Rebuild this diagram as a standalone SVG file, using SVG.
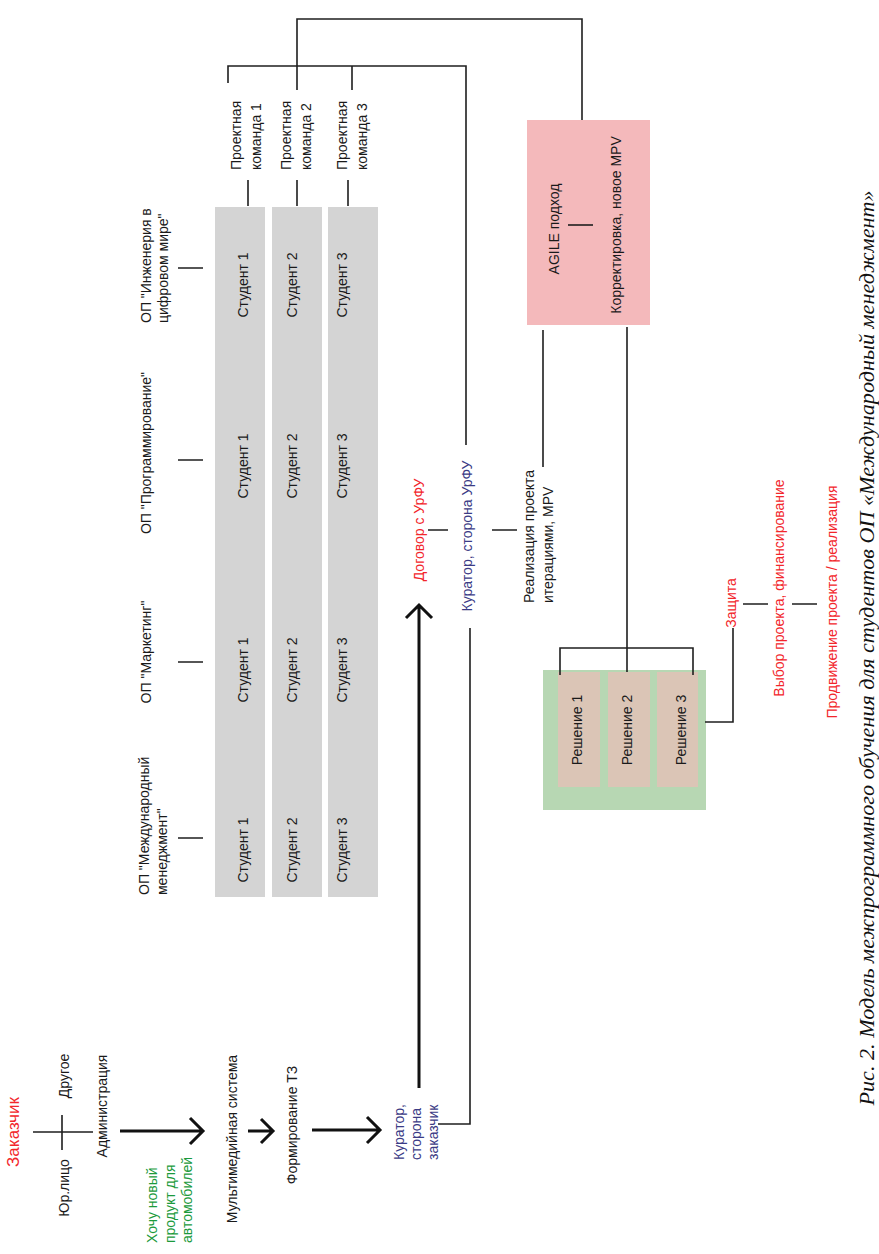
<svg xmlns="http://www.w3.org/2000/svg" width="879" height="1254" viewBox="0 0 879 1254">
<style>
.t{font-family:"Liberation Sans",Arial,sans-serif;font-size:14px;fill:#1a1a1a;dominant-baseline:central;text-anchor:middle}
.s{text-anchor:start}
.big{font-size:17px}
.red{fill:#f2262b}
.grn{fill:#1b9a3c}
.blu{fill:#3b3b85}
.ln{stroke:#1f1f1f;stroke-width:1.6;fill:none}
.th{stroke:#111;stroke-width:3;fill:none}
.col{fill:#d4d4d4}
.sol{fill:#dbc5b6}
.cap{font-family:"Liberation Serif","Times New Roman",serif;font-style:italic;font-size:21px;fill:#111;dominant-baseline:central;text-anchor:middle}
</style>
<rect width="879" height="1254" fill="#fff"/>

<g id="zakazchik">
<text class="t red big" transform="translate(13,1132) rotate(-90)">Заказчик</text>
<text class="t" transform="translate(64,1188) rotate(-90)">Юр.лицо</text>
<text class="t" transform="translate(64,1076) rotate(-90)">Другое</text>
<text class="t" transform="translate(102,1106) rotate(-90)">Администрация</text>
</g>
<g id="request">
<text class="t grn s" transform="translate(152,1243) rotate(-90)"><tspan x="0" y="0">Хочу новый</tspan><tspan x="0" y="17.5">продукт для</tspan><tspan x="0" y="35">автомобилей</tspan></text>
</g>
<g id="multimedia"><text class="t" transform="translate(232,1139) rotate(-90)">Мультимедийная система</text></g>
<g id="tz"><text class="t" transform="translate(292,1125) rotate(-90)">Формирование ТЗ</text></g>
<g id="curator-client">
<text class="t blu s" transform="translate(399,1160) rotate(-90)"><tspan x="0" y="0">Куратор,</tspan><tspan x="0" y="17">сторона</tspan><tspan x="0" y="34">заказчик</tspan></text>
</g>

<g id="op-labels">
<text class="t s" transform="translate(144,895) rotate(-90)"><tspan x="0" y="0">ОП "Международный</tspan><tspan x="0" y="18">менеджмент"</tspan></text>
<text class="t" transform="translate(146,652) rotate(-90)">ОП "Маркетинг"</text>
<text class="t" transform="translate(146,453) rotate(-90)">ОП "Программирование"</text>
<text class="t s" transform="translate(146,323) rotate(-90)"><tspan x="0" y="0">ОП "Инженерия в</tspan><tspan x="0" y="17">цифровом мире"</tspan></text>
</g>

<g id="students">
<rect class="col" x="215" y="207" width="50" height="690"/>
<rect class="col" x="272" y="207" width="50" height="690"/>
<rect class="col" x="328" y="207" width="50" height="690"/>
<text class="t" transform="translate(243,850) rotate(-90)">Студент 1</text>
<text class="t" transform="translate(292,850) rotate(-90)">Студент 2</text>
<text class="t" transform="translate(342,850) rotate(-90)">Студент 3</text>
<text class="t" transform="translate(243,670) rotate(-90)">Студент 1</text>
<text class="t" transform="translate(292,670) rotate(-90)">Студент 2</text>
<text class="t" transform="translate(342,670) rotate(-90)">Студент 3</text>
<text class="t" transform="translate(243,466) rotate(-90)">Студент 1</text>
<text class="t" transform="translate(292,466) rotate(-90)">Студент 2</text>
<text class="t" transform="translate(342,466) rotate(-90)">Студент 3</text>
<text class="t" transform="translate(243,285) rotate(-90)">Студент 1</text>
<text class="t" transform="translate(292,285) rotate(-90)">Студент 2</text>
<text class="t" transform="translate(342,285) rotate(-90)">Студент 3</text>
</g>

<g id="teams">
<text class="t s" transform="translate(236,170) rotate(-90)"><tspan x="0" y="0">Проектная</tspan><tspan x="0" y="20">команда 1</tspan></text>
<text class="t s" transform="translate(286,170) rotate(-90)"><tspan x="0" y="0">Проектная</tspan><tspan x="0" y="20">команда 2</tspan></text>
<text class="t s" transform="translate(342,170) rotate(-90)"><tspan x="0" y="0">Проектная</tspan><tspan x="0" y="20">команда 3</tspan></text>
</g>

<g id="urfu">
<text class="t red" transform="translate(419,530) rotate(-90)">Договор с УрФУ</text>
<text class="t blu" transform="translate(467,536) rotate(-90)">Куратор, сторона УрФУ</text>
<text class="t s" transform="translate(529,603) rotate(-90)"><tspan x="0" y="0">Реализация проекта</tspan><tspan x="0" y="19">итерациями, MPV</tspan></text>
</g>

<g id="agile">
<rect x="527" y="120" width="123" height="205" fill="#f4b9bb"/>
<text class="t" transform="translate(554,229) rotate(-90)">AGILE подход</text>
<text class="t" transform="translate(616,225) rotate(-90)">Корректировка, новое MPV</text>
</g>

<g id="solutions">
<rect x="543" y="670" width="163" height="140" fill="#b7d7b3"/>
<rect class="sol" x="558" y="672" width="42" height="115"/>
<rect class="sol" x="608" y="672" width="42" height="115"/>
<rect class="sol" x="657" y="672" width="41" height="115"/>
<text class="t" transform="translate(577,730) rotate(-90)">Решение 1</text>
<text class="t" transform="translate(627,730) rotate(-90)">Решение 2</text>
<text class="t" transform="translate(681,730) rotate(-90)">Решение 3</text>
</g>

<g id="outcomes">
<text class="t red" transform="translate(731,603) rotate(-90)">Защита</text>
<text class="t red" transform="translate(779,588) rotate(-90)">Выбор проекта, финансирование</text>
<text class="t red" transform="translate(832,602) rotate(-90)">Продвижение проекта / реализация</text>
</g>

<g id="connectors">
<path class="ln" d="M33,1132H93M62,1115V1150"/>
<path class="th" d="M120,1131H202M190,1118L203,1131L190,1144"/>
<path class="th" d="M248,1131H272M261,1119L273,1131L261,1143"/>
<path class="th" d="M312,1130H379M367,1117L380,1130L367,1143"/>
<path class="th" d="M419,1088V606M406,618L419,605L432,618"/>
<path class="ln" d="M438,1124H470V628"/>
<path class="ln" d="M428,530H448M492,530H517"/>
<path class="ln" d="M466,445V66H228V83M297,90V19H582V120M352,66V90"/>
<path class="ln" d="M248,180V206M297,180V206M348,180V206"/>
<path class="ln" d="M178,838H203M178,662H203M178,460H203M178,268H203"/>
<path class="ln" d="M568,225H593"/>
<path class="ln" d="M543,330V467M627,327V672"/>
<path class="ln" d="M560,675V648H693V675"/>
<path class="ln" d="M705,722H733V628"/>
<path class="ln" d="M743,604H768M792,604H817"/>
</g>

<g id="caption">
<text class="cap" transform="translate(867,648) rotate(-90)" textLength="915" lengthAdjust="spacingAndGlyphs">Рис. 2. Модель межпрограммного обучения для студентов ОП «Международный менеджмент»</text>
</g>
</svg>
